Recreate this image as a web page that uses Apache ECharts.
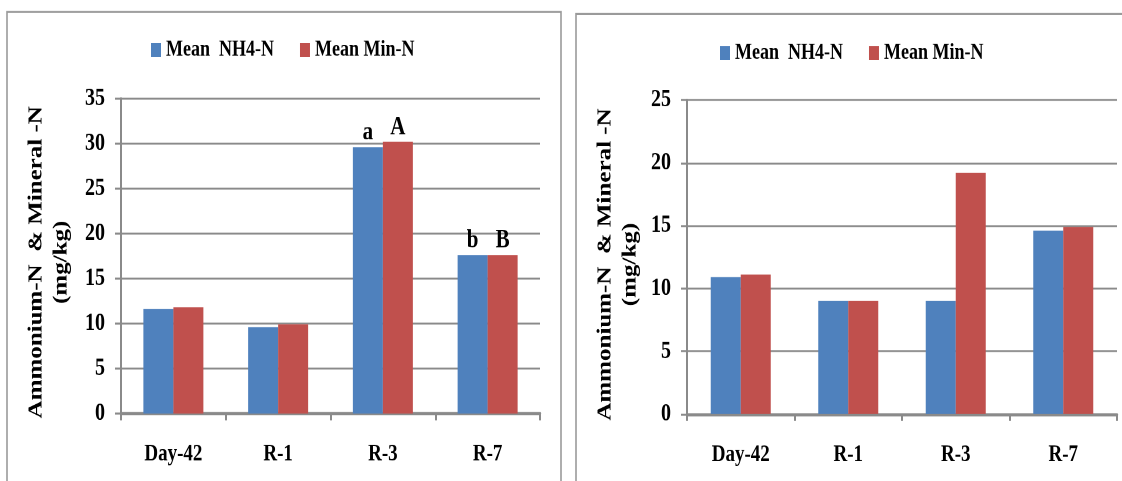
<!DOCTYPE html>
<html>
<head>
<meta charset="utf-8">
<script src="https://cdn.jsdelivr.net/npm/echarts@6/dist/echarts.min.js"></script>
<style>
html,body{margin:0;padding:0;background:#fff;overflow:hidden;width:1122px;height:481px;}
#c{width:1122px;height:385px;transform:scaleY(1.24935);transform-origin:0 0;}
</style>
</head>
<body>
<div id="c"></div>
<script>
// ---- data ----
var categories = ['Day-42', 'R-1', 'R-3', 'R-7'];
var seriesNames = ['Mean  NH4-N', 'Mean Min-N'];
// left chart
var leftNH4 = [11.6, 9.6, 29.6, 17.6];
var leftMinN = [11.8, 9.9, 30.2, 17.6];
var leftNH4Letters = ['', '', 'a', 'b'];
var leftMinNLetters = ['', '', 'A', 'B'];
var leftTicks = [0, 5, 10, 15, 20, 25, 30, 35];
// right chart
var rightNH4 = [10.9, 9.0, 9.0, 14.6];
var rightMinN = [11.1, 9.0, 19.2, 14.9];
var rightTicks = [0, 5, 10, 15, 20, 25];
var yAxisTitle = 'Ammonium-N  & Mineral -N\n(mg/kg)';

// ---- styling ----
var FONT = '"Liberation Serif", "Times New Roman", serif';
var BLUE = '#4F81BD', RED = '#C0504D', GREY = '#8a8a8a';

function withLetters(vals, letters) {
  return vals.map(function (v, i) {
    if (!letters || !letters[i]) return v;
    return {value: v, label: {show: true, formatter: letters[i]}};
  });
}

function xAxisCfg(gi) {
  return {
    type: 'category', gridIndex: gi, data: categories,
    axisLine: {show: true, lineStyle: {color: GREY, width: 2.4}},
    axisTick: {show: true, length: 5.5, lineStyle: {color: GREY, width: 2}},
    axisLabel: {margin: 23, color: '#000', fontFamily: FONT, fontWeight: 'bold', fontSize: 19},
    splitLine: {show: false}
  };
}
function yAxisCfg(gi, ticks, gap, shift) {
  return {
    type: 'value', gridIndex: gi, min: ticks[0], max: ticks[ticks.length - 1], interval: ticks[1] - ticks[0],
    name: yAxisTitle, nameLocation: 'middle', nameRotate: 90, nameGap: gap,
    nameTextStyle: {color: '#000', fontFamily: FONT, fontWeight: 'bold', fontSize: 20, lineHeight: 25, align: 'center', padding: [0, shift, 0, 0]},
    axisLine: {show: true, lineStyle: {color: GREY, width: 2}},
    axisTick: {show: true, length: 6, lineStyle: {color: GREY, width: 1.6}},
    axisLabel: {margin: 16, color: '#000', fontFamily: FONT, fontWeight: 'bold', fontSize: 20},
    splitLine: {show: true, lineStyle: {color: GREY, width: 1.6}}
  };
}
function barSeries(name, color, data, gi) {
  return {
    name: name, type: 'bar', xAxisIndex: gi, yAxisIndex: gi,
    barWidth: 30, barGap: '0%',
    itemStyle: {color: color},
    label: {show: false, position: 'top', distance: 1, color: '#000', fontFamily: FONT, fontWeight: 'bold', fontSize: 21},
    data: data
  };
}
function legendCfg(left, top) {
  return {
    left: left, top: top, padding: 0, itemGap: 26, itemWidth: 10, itemHeight: 11, icon: 'rect',
    data: seriesNames,
    textStyle: {color: '#000', fontFamily: FONT, fontWeight: 'bold', fontSize: 18}
  };
}

var chart = echarts.init(document.getElementById('c'), null, {renderer: 'canvas', devicePixelRatio: 2});
chart.setOption({
  backgroundColor: '#fff',
  animation: false,
  color: [BLUE, RED],
  textStyle: {fontFamily: FONT},
  graphic: [
    {type: 'rect', shape: {x: 7, y: 9.6, width: 554, height: 400}, style: {fill: 'none', stroke: '#9a9a9a', lineWidth: 1.6}, z: -1},
    {type: 'rect', shape: {x: 576, y: 11.2, width: 560, height: 400}, style: {fill: 'none', stroke: '#9a9a9a', lineWidth: 1.6}, z: -1}
  ],
  legend: [legendCfg(151, 31), legendCfg(720, 33.5)],
  grid: [
    {left: 121, top: 78.8, width: 419, height: 252.2},
    {left: 687, top: 80.0, width: 430, height: 251.4}
  ],
  xAxis: [xAxisCfg(0), xAxisCfg(1)],
  yAxis: [yAxisCfg(0, leftTicks, 47, 10), yAxisCfg(1, rightTicks, 44, 12)],
  series: [
    barSeries(seriesNames[0], BLUE, withLetters(leftNH4, leftNH4Letters), 0),
    barSeries(seriesNames[1], RED, withLetters(leftMinN, leftMinNLetters), 0),
    barSeries(seriesNames[0], BLUE, rightNH4, 1),
    barSeries(seriesNames[1], RED, rightMinN, 1)
  ]
});
</script>
</body>
</html>
